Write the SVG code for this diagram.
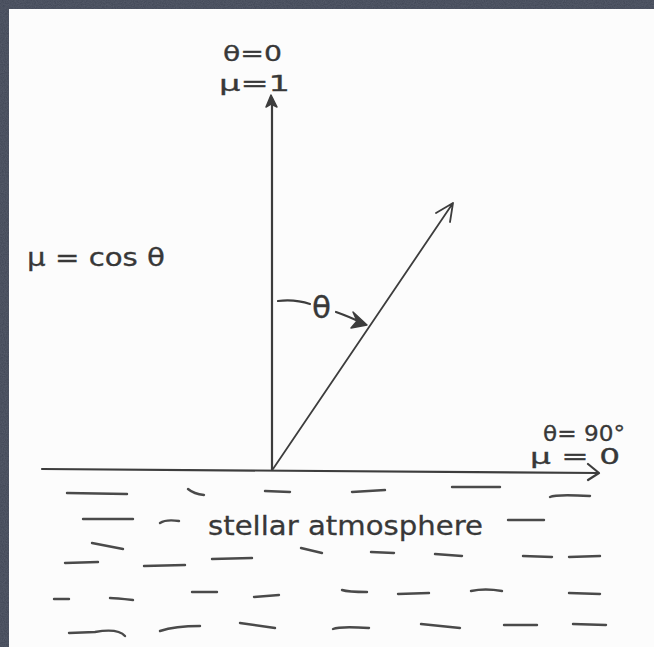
<svg xmlns="http://www.w3.org/2000/svg" width="654" height="647" viewBox="0 0 654 647">
<defs>
<style>
.ink{fill:none;stroke:#3d3d3d;stroke-linecap:round;stroke-linejoin:round}
.axis{stroke-width:2.2}
.dash{fill:none;stroke:#4a4a4a;stroke-width:2.4;stroke-linecap:round}
.lbl{font-family:"DejaVu Sans","Liberation Sans",sans-serif;fill:#383838;stroke:#383838;stroke-width:0.3}
</style>
<filter id="tex" x="0" y="0" width="100%" height="100%">
<feTurbulence type="fractalNoise" baseFrequency="0.9" numOctaves="2" seed="3"/>
<feColorMatrix type="matrix" values="0 0 0 0 0.24  0 0 0 0 0.26  0 0 0 0 0.32  0 0 0 0.35 0"/>
<feComposite in2="SourceGraphic" operator="in"/>
</filter>
</defs>
<rect x="0" y="0" width="654" height="647" fill="#3f4554"/>
<rect x="0" y="0" width="654" height="647" fill="#5a6070" filter="url(#tex)"/>
<rect x="9" y="9" width="645" height="638" fill="#fcfcfc"/>

<g id="connectors">
<path id="horizontal-axis" class="ink axis" d="M42,469 L599,473 M588,464 L599,473 L588,480"/>
<path id="vertical-axis" class="ink axis" d="M272,470 L272,98"/>
<path d="M271,95 L266,107 L271,104 L277,107 Z" fill="#3d3d3d" stroke="#3d3d3d" stroke-width="1.5" stroke-linejoin="round"/>
<path id="direction-ray" class="ink" stroke-width="1.8" d="M273,469 L453,203 M436,213 L453,203 L450,222"/>
<path id="angle-arc" class="ink" stroke-width="2.2" d="M278,301 Q295,299 310,304 M336,312 Q350,317 360,322"/>
<path d="M367,325 L353,312 L357,321 L351,328 Z" fill="#3d3d3d" stroke="#3d3d3d" stroke-width="1.5" stroke-linejoin="round"/>
</g>

<g id="label-top">
<text class="lbl" x="223" y="61" font-size="21" textLength="59" lengthAdjust="spacingAndGlyphs">θ=0</text>
<text class="lbl" x="219" y="91" font-size="22" textLength="71" lengthAdjust="spacingAndGlyphs">μ=1</text>
</g>
<g id="label-mu-def">
<text class="lbl" x="27" y="266" font-size="24" textLength="138" lengthAdjust="spacingAndGlyphs">μ = cos θ</text>
</g>
<g id="label-theta">
<text class="lbl" x="312" y="318" font-size="30" textLength="19" lengthAdjust="spacingAndGlyphs">θ</text>
</g>
<g id="label-right">
<text class="lbl" x="543" y="441" font-size="21" textLength="82" lengthAdjust="spacingAndGlyphs">θ= 90°</text>
<text class="lbl" x="530" y="464" font-size="21" textLength="90" lengthAdjust="spacingAndGlyphs">μ = 0</text>
</g>
<g id="label-atmosphere">
<text class="lbl" x="208" y="535" font-size="27" textLength="275" lengthAdjust="spacingAndGlyphs">stellar atmosphere</text>
</g>

<g id="atmosphere-dashes">
<path class="dash" d="M67,493 L127,494"/>
<path class="dash" d="M188,489 Q194,494 204,495"/>
<path class="dash" d="M265,491 L290,492"/>
<path class="dash" d="M352,492 L385,490"/>
<path class="dash" d="M452,487 L500,487"/>
<path class="dash" d="M550,497 Q556,494 590,496"/>
<path class="dash" d="M83,519 L133,519"/>
<path class="dash" d="M160,523 Q166,519 179,521"/>
<path class="dash" d="M508,520 L544,520"/>
<path class="dash" d="M92,543 L123,549"/>
<path class="dash" d="M301,548 L322,553"/>
<path class="dash" d="M371,552 L394,553"/>
<path class="dash" d="M435,554 L462,556"/>
<path class="dash" d="M523,556 L552,557"/>
<path class="dash" d="M569,557 L600,556"/>
<path class="dash" d="M65,563 L98,562"/>
<path class="dash" d="M144,566 L185,565"/>
<path class="dash" d="M212,559 L252,558"/>
<path class="dash" d="M54,599 L69,599"/>
<path class="dash" d="M110,598 Q115,598 133,600"/>
<path class="dash" d="M192,592 L217,592"/>
<path class="dash" d="M254,597 L279,595"/>
<path class="dash" d="M342,590 Q348,592 367,592"/>
<path class="dash" d="M398,594 L429,593"/>
<path class="dash" d="M471,591 Q485,588 502,591"/>
<path class="dash" d="M569,593 L600,594"/>
<path class="dash" d="M69,633 L95,632 Q118,628 125,636"/>
<path class="dash" d="M160,631 Q175,626 200,626"/>
<path class="dash" d="M240,623 L275,628"/>
<path class="dash" d="M333,629 Q340,626 369,628"/>
<path class="dash" d="M421,624 L460,628"/>
<path class="dash" d="M504,625 L537,625"/>
<path class="dash" d="M573,624 L606,625"/>
</g>
</svg>
